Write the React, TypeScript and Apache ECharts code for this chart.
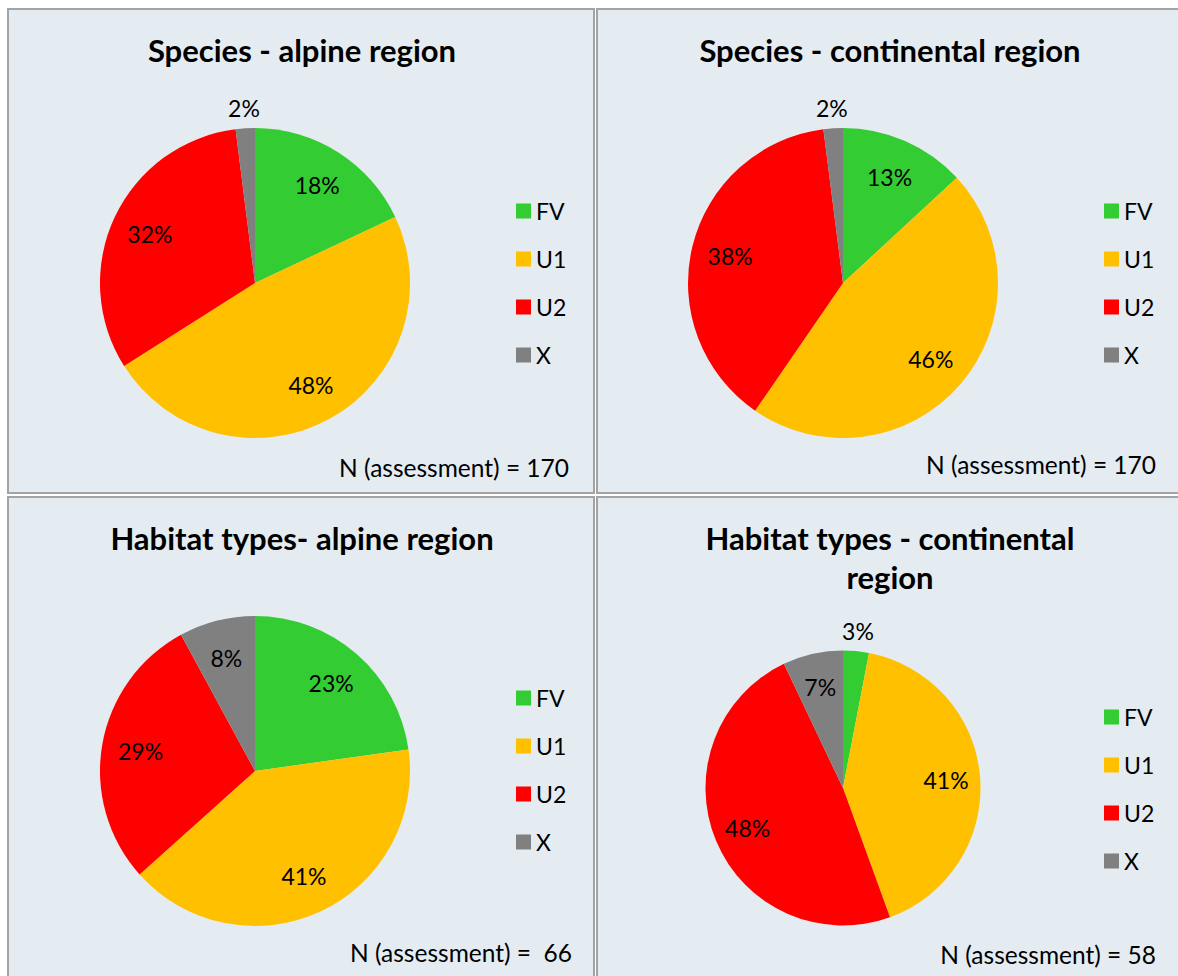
import React, { useEffect, useRef } from 'react';
import * as echarts from 'echarts';

// ---- data ----
const categories = ['FV', 'U1', 'U2', 'X'];
const categoryColors = ['#33CC33', '#FFC000', '#FF0000', '#808080'];
const speciesAlpine = [18, 48, 32, 2];
const speciesContinental = [13, 46, 38, 2];
const habitatAlpine = [23, 41, 29, 8];
const habitatContinental = [3, 41, 48, 7];
const panelTitles = [
  'Species - alpine region',
  'Species - continental region',
  'Habitat types- alpine region',
  'Habitat types - continental\nregion',
];
const assessmentLabels = [
  'N (assessment) = 170',
  'N (assessment) = 170',
  'N (assessment) =  66',
  'N (assessment) = 58',
];
const panelValues = [speciesAlpine, speciesContinental, habitatAlpine, habitatContinental];

// ---- layout (pixels) ----
const layout = [
  { x: 8, y: 9, w: 586, h: 484, cx: 255, cy: 283, r: 155, tx: 302, ty: 50, lx: 516, ly: 199, nx: 569, ny: 467 },
  { x: 597, y: 9, w: 620, h: 484, cx: 843, cy: 283, r: 155, tx: 890, ty: 50, lx: 1104, ly: 199, nx: 1156, ny: 464 },
  { x: 8, y: 497, w: 586, h: 520, cx: 255, cy: 771, r: 155, tx: 302, ty: 538, lx: 516, ly: 686, nx: 572, ny: 952 },
  { x: 597, y: 497, w: 620, h: 520, cx: 843, cy: 788, r: 137.5, tx: 890, ty: 557.5, lx: 1104, ly: 705, nx: 1156, ny: 954 },
];

const FONT = 'Lato';
const TEXT_SIZE = 23;
const SMALL = 5; // slices below this share get their label outside

export default function App() {
  const ref = useRef<HTMLDivElement>(null);
  useEffect(() => {
    if (!ref.current) return;
    const chart = echarts.init(ref.current, undefined, { renderer: 'svg' });

    const graphics: any[] = [];
    layout.forEach((p, i) => {
      graphics.push({
        type: 'rect',
        shape: { x: p.x, y: p.y, width: p.w, height: p.h },
        style: { fill: '#E4ECF2', stroke: '#A3A3A3', lineWidth: 2 },
        z: -10,
        silent: true,
      });
      graphics.push({
        type: 'text',
        x: p.nx,
        y: p.ny,
        style: {
          text: assessmentLabels[i],
          align: 'right',
          verticalAlign: 'middle',
          fontFamily: FONT,
          fontSize: 24.5,
          fill: '#000',
        },
        silent: true,
      });
    });

    const titles = layout.map((p, i) => ({
      text: panelTitles[i],
      left: p.tx,
      top: p.ty - (panelTitles[i].includes('\n') ? 39 : 19.5),
      textAlign: 'center',
      padding: 0,
      textStyle: {
        fontFamily: FONT,
        fontWeight: 'bold',
        fontSize: 31,
        lineHeight: 39,
        color: '#000',
      },
    }));

    const legends = layout.map((p) => ({
      data: categories,
      orient: 'vertical',
      left: p.lx,
      top: p.ly,
      icon: 'rect',
      itemWidth: 15,
      itemHeight: 15,
      itemGap: 24,
      padding: 0,
      selectedMode: false,
      textStyle: { fontFamily: FONT, fontSize: TEXT_SIZE, lineHeight: 24, color: '#000' },
    }));

    const series: any[] = [];
    // visible pies
    layout.forEach((p, i) => {
      const vals = panelValues[i];
      series.push({
        type: 'pie',
        center: [p.cx, p.cy],
        radius: [0, p.r],
        startAngle: 90,
        clockwise: true,
        avoidLabelOverlap: false,
        silent: true,
        emphasis: { disabled: true },
        labelLayout: (params: any) => (vals[params.dataIndex] < SMALL ? { align: 'center' } : {}),
        data: categories.map((c, k) => ({
          name: c,
          value: vals[k],
          itemStyle: { color: categoryColors[k], borderWidth: 0 },
          label:
            vals[k] < SMALL
              ? {
                  show: true,
                  position: 'outside',
                  formatter: '{c}%',
                  fontFamily: FONT,
                  fontSize: TEXT_SIZE,
                  color: '#000',
                  distanceToLabelLine: 0,
                }
              : { show: false },
          labelLine: { show: false, length: 20, length2: 0 },
        })),
      });
    });
    // transparent overlay pies that only carry the inner labels
    layout.forEach((p, i) => {
      const vals = panelValues[i];
      series.push({
        type: 'pie',
        center: [p.cx, p.cy],
        radius: [0, p.r * 1.46],
        startAngle: 90,
        clockwise: true,
        silent: true,
        z: 5,
        emphasis: { disabled: true },
        labelLine: { show: false },
        data: categories.map((c, k) => ({
          name: c,
          value: vals[k],
          itemStyle: { color: 'rgba(0,0,0,0)', borderWidth: 0 },
          label: {
            show: vals[k] >= SMALL,
            position: 'inside',
            formatter: '{c}%',
            fontFamily: FONT,
            fontSize: TEXT_SIZE,
            color: '#000',
          },
        })),
      });
    });

    chart.setOption({
      animation: false,
      backgroundColor: '#FFFFFF',
      title: titles,
      legend: legends,
      graphic: graphics,
      series,
    });
    return () => chart.dispose();
  }, []);

  return (
    <div
      style={{ position: 'fixed', left: 0, top: 0, width: 1178, height: 976, overflow: 'hidden', background: '#fff' }}
    >
      <div ref={ref} style={{ width: 1178, height: 976 }} />
    </div>
  );
}
